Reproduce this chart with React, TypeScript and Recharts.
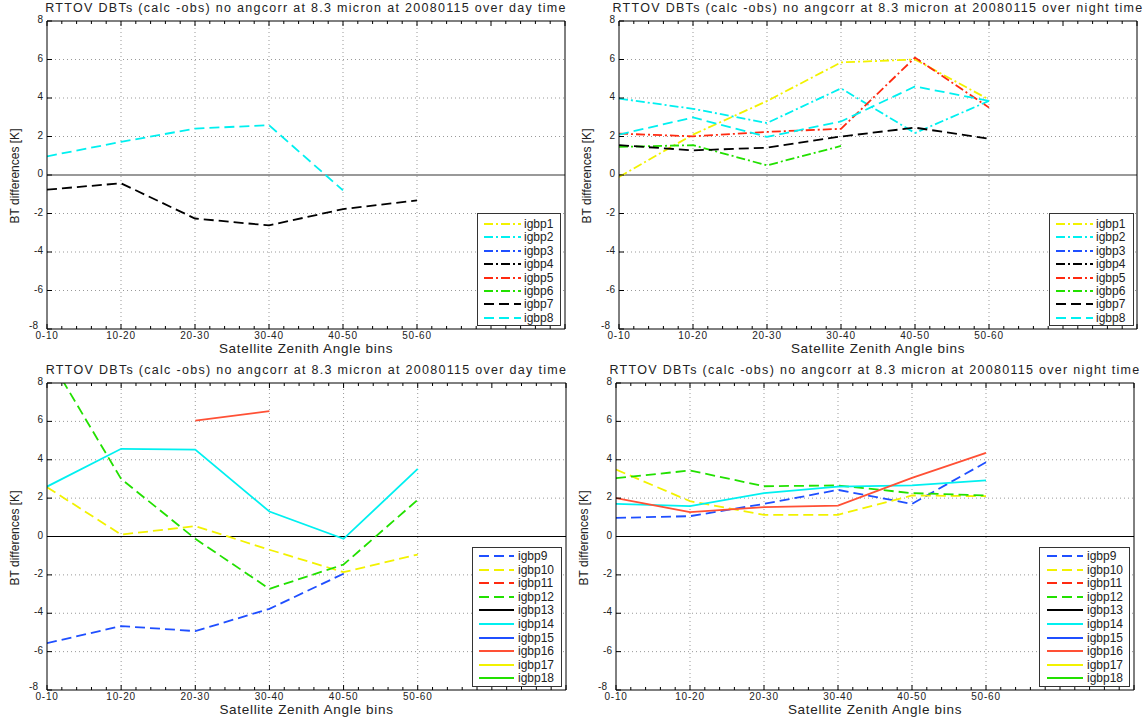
import { LineChart, Line, XAxis, YAxis, ReferenceLine } from 'recharts';

const bins = ['0-10', '10-20', '20-30', '30-40', '40-50', '50-60'];
const yTicks = [-8, -6, -4, -2, 0, 2, 4, 6, 8];
const gridX = [1, 2, 3, 4, 5];
const gridY = [-6, -4, -2, 2, 4, 6];
// x axis runs 0..7 with 5 minor steps per bin
const xTicks = Array.from({ length: 36 }, (_, i) => Math.round(i * 2) / 10);

const none = [null, null, null, null, null, null];

// day time, igbp1-8
const dayIgbp7 = [-0.76, -0.43, -2.26, -2.62, -1.77, -1.32];
const dayIgbp8 = [0.97, 1.72, 2.41, 2.59, -0.8, null];

// night time, igbp1-8
const nightIgbp1 = [-0.1, 2.1, 3.84, 5.85, 6.0, 3.92];
const nightIgbp2 = [3.97, 3.44, 2.7, 4.5, 2.18, 3.85];
const nightIgbp5 = [2.15, 2.01, 2.24, 2.4, 6.1, 3.5];
const nightIgbp6 = [1.46, 1.55, 0.5, 1.51, null, null];
const nightIgbp7 = [1.55, 1.28, 1.42, 2.0, 2.46, 1.88];
const nightIgbp8 = [2.1, 2.99, 1.98, 2.78, 4.6, 3.85];

// day time, igbp9-18
const dayIgbp9 = [-5.56, -4.67, -4.93, -3.77, -1.94, null];
const dayIgbp10 = [2.57, 0.1, 0.54, -0.69, -1.86, -0.94];
const dayIgbp12 = [9.5, 3.0, -0.12, -2.73, -1.46, 1.91];
const dayIgbp14 = [2.6, 4.57, 4.53, 1.3, -0.12, 3.52];
const dayIgbp16 = [null, null, 6.04, 6.53, null, null];

// night time, igbp9-18
const nightIgbp9 = [0.97, 1.06, 1.7, 2.43, 1.7, 3.87];
const nightIgbp10 = [3.49, 1.84, 1.13, 1.13, 2.14, 2.1];
const nightIgbp12 = [3.04, 3.44, 2.62, 2.66, 2.26, 2.14];
const nightIgbp14 = [1.7, 1.58, 2.26, 2.6, 2.66, 2.92];
const nightIgbp16 = [2.0, 1.27, 1.53, 1.61, 3.06, 4.36];

const YELLOW = '#f2f200';
const CYAN = '#00f0f0';
const BLUE = '#1f4fff';
const BLACK = '#000000';
const RED = '#ff2a10';
const ORANGE = '#ff5035';
const GREEN = '#22e000';
const DASHDOT = '9 3 2 3';
const DASH = '10 5';

const seriesA = [
  { key: 'igbp1', color: YELLOW, dash: DASHDOT },
  { key: 'igbp2', color: CYAN, dash: DASHDOT },
  { key: 'igbp3', color: BLUE, dash: DASHDOT },
  { key: 'igbp4', color: BLACK, dash: DASHDOT },
  { key: 'igbp5', color: RED, dash: DASHDOT },
  { key: 'igbp6', color: GREEN, dash: DASHDOT },
  { key: 'igbp7', color: BLACK, dash: DASH },
  { key: 'igbp8', color: CYAN, dash: DASH },
];

const seriesB = [
  { key: 'igbp9', color: BLUE, dash: DASH },
  { key: 'igbp10', color: YELLOW, dash: DASH },
  { key: 'igbp11', color: RED, dash: DASH },
  { key: 'igbp12', color: GREEN, dash: DASH },
  { key: 'igbp13', color: BLACK, dash: undefined },
  { key: 'igbp14', color: CYAN, dash: undefined },
  { key: 'igbp15', color: BLUE, dash: undefined },
  { key: 'igbp16', color: ORANGE, dash: undefined },
  { key: 'igbp17', color: YELLOW, dash: undefined },
  { key: 'igbp18', color: GREEN, dash: undefined },
];

const dayA = { igbp1: none, igbp2: none, igbp3: none, igbp4: none, igbp5: none, igbp6: none, igbp7: dayIgbp7, igbp8: dayIgbp8 };
const nightA = { igbp1: nightIgbp1, igbp2: nightIgbp2, igbp3: none, igbp4: none, igbp5: nightIgbp5, igbp6: nightIgbp6, igbp7: nightIgbp7, igbp8: nightIgbp8 };
const dayB = { igbp9: dayIgbp9, igbp10: dayIgbp10, igbp11: none, igbp12: dayIgbp12, igbp13: none, igbp14: dayIgbp14, igbp15: none, igbp16: dayIgbp16, igbp17: none, igbp18: none };
const nightB = { igbp9: nightIgbp9, igbp10: nightIgbp10, igbp11: none, igbp12: nightIgbp12, igbp13: none, igbp14: nightIgbp14, igbp15: none, igbp16: nightIgbp16, igbp17: none, igbp18: none };

const FONT = "'Liberation Sans', Arial, Helvetica, sans-serif";

function buildRows(values: any, series: any[]) {
  return bins.map((_, i) => {
    const row: any = { x: i };
    series.forEach((s) => (row[s.key] = values[s.key][i]));
    return row;
  });
}

const isMajor = (v: number) => Math.abs(v - Math.round(v)) < 1e-6;

// ticks point inward, as in the MATLAB original; the tick anchor sits on the axis line
const bottomTick = (p: any) => {
  const v = p.payload.value;
  const major = isMajor(v);
  const i = Math.round(v);
  return (
    <g>
      <line x1={p.x} x2={p.x} y1={p.y} y2={p.y - (major ? 5 : 3)} stroke="#000" />
      {major && i <= 5 && (
        <text x={p.x} y={p.y + 10} textAnchor="middle" fontSize={10} fontFamily={FONT} letterSpacing={0.8} fill="#222">
          {bins[i]}
        </text>
      )}
    </g>
  );
};

const topTick = (p: any) => {
  const major = isMajor(p.payload.value);
  return <line x1={p.x} x2={p.x} y1={p.y} y2={p.y + (major ? 5 : 3)} stroke="#000" />;
};

const leftTick = (p: any) => {
  const bottom = p.payload.value === -8;
  return (
    <g>
      <line x1={p.x} x2={p.x + 5} y1={p.y} y2={p.y} stroke="#000" />
      <text x={p.x - (bottom ? 9 : 4)} y={p.y + (bottom ? 0 : 2)} textAnchor="end" fontSize={10} fontFamily={FONT} fill="#222">
        {p.payload.value}
      </text>
    </g>
  );
};

const rightTick = (p: any) => <line x1={p.x} x2={p.x - 5} y1={p.y} y2={p.y} stroke="#000" />;

function Legend({ box, series }: any) {
  return (
    <div
      style={{
        position: 'absolute',
        left: box.left,
        top: box.top,
        width: box.width,
        height: box.height,
        border: '1px solid #333',
        background: '#fff',
        boxSizing: 'border-box',
        fontFamily: FONT,
        fontSize: 12,
        color: '#222',
      }}
    >
      {series.map((s: any, i: number) => (
        <div key={s.key} style={{ position: 'absolute', left: 0, top: box.first + i * box.step - 7, height: 14, width: '100%' }}>
          <svg width={box.textX} height={14} style={{ position: 'absolute', left: 0, top: 0 }}>
            <line x1={box.sample[0]} x2={box.sample[1]} y1={7} y2={7} stroke={s.color} strokeWidth={1.8} strokeDasharray={s.dash} />
          </svg>
          <span style={{ position: 'absolute', left: box.textX, top: 0, lineHeight: '14px', whiteSpace: 'nowrap' }}>{s.key}</span>
        </div>
      ))}
    </div>
  );
}

const AX = 20; // space reserved for each axis; margins are reduced by the same amount

function Panel({ x0, y0, plot, title, series, values, legend, zero }: any) {
  const W = 573;
  const H = 360;
  const data = buildRows(values, series);
  const cx = (plot.left + plot.right) / 2;
  return (
    <div style={{ position: 'absolute', left: x0, top: y0, width: W, height: H }}>
      <LineChart
        width={W}
        height={H}
        data={data}
        margin={{ top: plot.top - AX, left: plot.left - AX, right: W - plot.right - AX, bottom: H - plot.bottom - AX }}
      >
        <XAxis dataKey="x" type="number" domain={[0, 7]} ticks={xTicks} interval={0} height={AX} tickSize={0} tickMargin={0} tickLine={false} axisLine={{ stroke: '#000' }} tick={bottomTick} allowDataOverflow />
        <XAxis xAxisId="top" orientation="top" dataKey="x" type="number" domain={[0, 7]} ticks={xTicks} interval={0} height={AX} tickSize={0} tickMargin={0} tickLine={false} axisLine={{ stroke: '#000' }} tick={topTick} />
        <YAxis type="number" domain={[-8, 8]} ticks={yTicks} interval={0} width={AX} tickSize={0} tickMargin={0} tickLine={false} axisLine={{ stroke: '#000' }} tick={leftTick} allowDataOverflow />
        <YAxis yAxisId="right" orientation="right" type="number" domain={[-8, 8]} ticks={yTicks} interval={0} width={AX} tickSize={0} tickMargin={0} tickLine={false} axisLine={{ stroke: '#000' }} tick={rightTick} />
        {gridX.map((v) => (
          <ReferenceLine key={'gx' + v} x={v} stroke="#999" strokeDasharray="1 3" />
        ))}
        {gridY.map((v) => (
          <ReferenceLine key={'gy' + v} y={v} stroke="#999" strokeDasharray="1 3" />
        ))}
        <ReferenceLine y={0} stroke={zero.color} strokeWidth={zero.width} />
        {series.map((s: any) => (
          <Line
            key={s.key}
            type="linear"
            dataKey={s.key}
            stroke={s.color}
            strokeWidth={1.8}
            strokeDasharray={s.dash}
            dot={false}
            activeDot={false}
            isAnimationActive={false}
          />
        ))}
      </LineChart>
      <div
        style={{
          position: 'absolute',
          left: cx - 300,
          width: 600,
          top: plot.top - 21,
          lineHeight: '16px',
          textAlign: 'center',
          fontFamily: FONT,
          fontSize: 12.5,
          letterSpacing: 1.3,
          color: '#222',
          whiteSpace: 'nowrap',
        }}
      >
        {title}
      </div>
      <div
        style={{
          position: 'absolute',
          left: cx - 200,
          width: 400,
          top: plot.bottom + 13,
          lineHeight: '13px',
          textAlign: 'center',
          fontFamily: FONT,
          fontSize: 13.5,
          letterSpacing: 0.7,
          color: '#222',
        }}
      >
        Satellite Zenith Angle bins
      </div>
      <div
        style={{
          position: 'absolute',
          left: plot.left - 32,
          top: (plot.top + plot.bottom) / 2 + 1,
          transform: 'translate(-50%, -50%) rotate(-90deg)',
          fontFamily: FONT,
          fontSize: 12,
          color: '#222',
          whiteSpace: 'nowrap',
        }}
      >
        BT differences [K]
      </div>
      <Legend box={legend} series={series} />
    </div>
  );
}

export default function App() {
  const dayTitle = 'RTTOV DBTs (calc -obs) no angcorr at 8.3 micron at 20080115 over day time';
  const nightTitle = 'RTTOV DBTs (calc -obs) no angcorr at 8.3 micron at 20080115 over night time';
  return (
    <div style={{ position: 'absolute', left: 0, top: 0, width: 1146, height: 721, background: '#fff', overflow: 'hidden' }}>
      <Panel
        x0={0}
        y0={0}
        plot={{ left: 47, right: 565, top: 21, bottom: 329 }}
        title={dayTitle}
        series={seriesA}
        values={dayA}
        zero={{ color: '#999', width: 2 }}
        legend={{ left: 477, top: 213, width: 84, height: 113, first: 10, step: 13.4, sample: [6, 43], textX: 46 }}
      />
      <Panel
        x0={573}
        y0={0}
        plot={{ left: 46, right: 564, top: 21, bottom: 329 }}
        title={nightTitle}
        series={seriesA}
        values={nightA}
        zero={{ color: '#999', width: 2 }}
        legend={{ left: 476, top: 213, width: 85, height: 113, first: 10, step: 13.4, sample: [6, 43], textX: 46 }}
      />
      <Panel
        x0={0}
        y0={360}
        plot={{ left: 47, right: 566, top: 23, bottom: 330 }}
        title={dayTitle}
        series={seriesB}
        values={dayB}
        zero={{ color: '#000', width: 1 }}
        legend={{ left: 472, top: 187, width: 90, height: 140, first: 8, step: 13.6, sample: [6, 41], textX: 45 }}
      />
      <Panel
        x0={573}
        y0={360}
        plot={{ left: 43, right: 561, top: 23, bottom: 330 }}
        title={nightTitle}
        series={seriesB}
        values={nightB}
        zero={{ color: '#000', width: 1 }}
        legend={{ left: 466, top: 187, width: 91, height: 140, first: 8, step: 13.6, sample: [7, 43], textX: 47 }}
      />
    </div>
  );
}
